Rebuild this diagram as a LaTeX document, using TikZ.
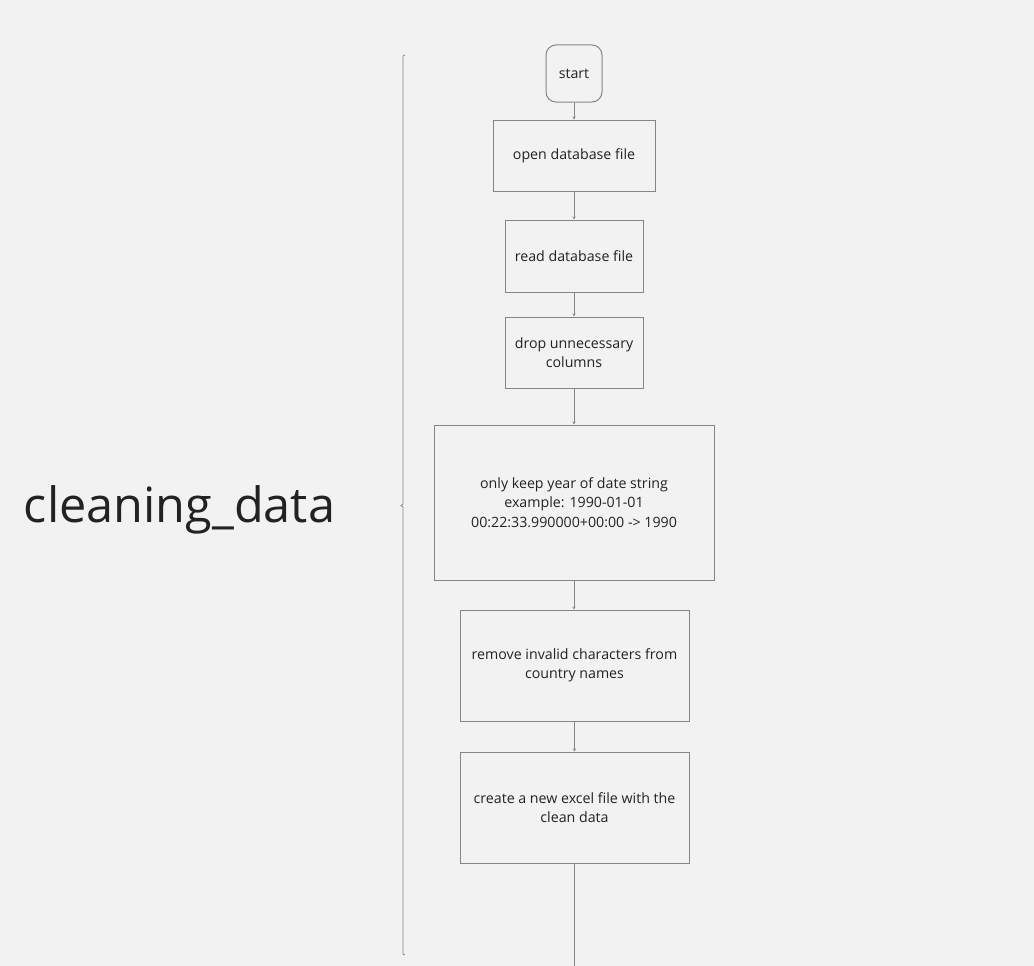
\documentclass[tikz,border=0pt]{standalone}
\usepackage{fontspec}
\setmainfont{Open Sans}
\usepackage{tikz}
\usetikzlibrary{arrows.meta}

\definecolor{bgcol}{HTML}{F2F2F2}
\definecolor{linecol}{HTML}{858585}
\definecolor{txtcol}{HTML}{222222}

\tikzset{
  stepbox/.style={draw=linecol, line width=1, rectangle, align=center, text=txtcol, font=\fontsize{14.2}{19.5}\selectfont, inner sep=0},
  flow/.style={-{Stealth[length=3, width=3]}, draw=linecol, line width=0.8}
}

\begin{document}
\begin{tikzpicture}[x=1pt, y=-1pt]

\fill[bgcol] (0,0) rectangle (1034,966);
\useasboundingbox (0,0) rectangle (1034,966);

% label and bracket
\node[text=txtcol, font=\fontsize{48.6}{56}\selectfont, anchor=center] (title) at (179.5, 510) {cleaning\_data};
\draw[linecol, line width=0.8] (405,55) -- (403,56) -- (403,504) -- (401,505.5) -- (403,507) -- (403,954) -- (405,955);

% flow nodes
\node[stepbox, rounded corners=10, minimum width=56, minimum height=57] (start) at (574, 73.5) {start};
\node[stepbox, minimum width=162, minimum height=71] (open) at (574, 155.5) {open database file};
\node[stepbox, minimum width=138, minimum height=72] (read) at (574, 256) {read database file};
\node[stepbox, minimum width=138, minimum height=71] (drop) at (574, 352.5) {drop unnecessary\\columns};
\node[stepbox, minimum width=280, minimum height=155] (year) at (574, 502.5) {only keep year of date string\\example: 1990-01-01\\00:22:33.990000+00:00 -> 1990};
\node[stepbox, minimum width=229, minimum height=111] (country) at (574.5, 665.5) {remove invalid characters from\\country names};
\node[stepbox, minimum width=229, minimum height=111] (excel) at (574.5, 807.5) {create a new excel file with the\\clean data};
\coordinate (end) at (574.5, 966);

% connectors
\draw[flow] (start) -- (open);
\draw[flow] (open) -- (read);
\draw[flow] (read) -- (drop);
\draw[flow] (drop) -- (year);
\draw[flow] (year) -- (year |- country.north);
\draw[flow] (country) -- (excel);
\draw[linecol, line width=0.8] (excel) -- (end);

\end{tikzpicture}
\end{document}
